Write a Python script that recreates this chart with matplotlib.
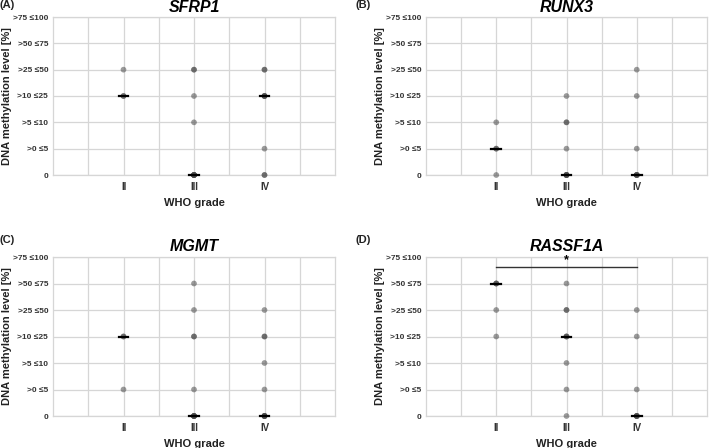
import numpy as np
import matplotlib.pyplot as plt

plt.rcParams["font.family"] = ["Liberation Sans", "DejaVu Sans"]

# methylation categories (index 0..6 on the y axis)
level_labels = ["0", ">0 \u22645", ">5 \u226410", ">10 \u226425", ">25 \u226450", ">50 \u226475", ">75 \u2264100"]
grades = ["II", "III", "IV"]

# per gene: category index of each sample, per WHO grade
sfrp1 = [[3, 3, 4],
         [0, 0, 0, 0, 0, 0, 0, 2, 3, 4, 4],
         [0, 0, 1, 3, 3, 3, 3, 4, 4]]
runx3 = [[0, 1, 1, 2],
         [0, 0, 0, 0, 0, 0, 1, 2, 2, 3],
         [0, 0, 0, 0, 0, 1, 3, 4]]
mgmt = [[1, 3, 3],
        [0, 0, 0, 0, 0, 0, 1, 3, 3, 4, 5],
        [0, 0, 0, 0, 0, 0, 1, 2, 3, 3, 4]]
rassf1a = [[3, 4, 5, 5, 5],
           [0, 1, 2, 3, 3, 3, 4, 4, 5],
           [0, 0, 0, 0, 0, 1, 3, 4]]

genes = ["SFRP1", "RUNX3", "MGMT", "RASSF1A"]
panel_tags = ["(A)", "(B)", "(C)", "(D)"]
gene_data = [sfrp1, runx3, mgmt, rassf1a]

W, H = 709, 448
fig = plt.figure(figsize=(W / 100, H / 100), dpi=100)

# axes boxes in pixels: left, top, right, bottom
boxes = [(53, 17, 335, 175), (426, 17, 707, 175),
         (53, 257, 335, 416), (426, 257, 707, 416)]
tag_pos = [(0, 5), (355, 5), (0, 240), (355, 240)]
title_y = [7, 7, 246, 246]
ylab_x = [12, 385, 12, 385]

for i in range(4):
    l, t, r, b = boxes[i]
    ax = fig.add_axes([l / W, 1 - b / H, (r - l) / W, (b - t) / H])
    ax.set_xlim(0, 4)
    ax.set_ylim(0, 6)
    ax.set_axisbelow(True)
    for s in ax.spines.values():
        s.set_color("#d6d6d6")
        s.set_linewidth(0.9)
    ax.set_xticks([1, 2, 3])
    ax.set_xticks([0.5, 1.5, 2.5, 3.5], minor=True)
    ax.grid(True, which="both", color="#d6d6d6", linewidth=0.9)
    ax.tick_params(which="both", length=0)
    ax.tick_params(axis="x", pad=5)
    ax.set_xticklabels(grades, fontsize=7, fontweight="bold", color="#333333")
    ax.set_yticks(range(7))
    ax.set_yticklabels(level_labels, fontsize=6, fontweight="bold", color="#333333")
    ax.set_xlabel("WHO grade", fontsize=8, fontweight="bold", color="#222222", labelpad=4)
    ax.set_ylabel("DNA methylation level [%]", fontsize=8, fontweight="bold", color="#222222")
    ax.yaxis.set_label_coords((ylab_x[i] - l) / (r - l), 0.5)

    for g, vals in enumerate(gene_data[i]):
        x = g + 1
        vals = np.array(vals)
        ax.scatter(np.full(len(vals), x), vals, s=17, color="#4a4a4a", alpha=0.55,
                   edgecolors="none", clip_on=False, zorder=3)
        med = np.median(vals)
        ax.plot([x - 0.07, x + 0.07], [med, med], color="black", linewidth=1.6,
                clip_on=False, zorder=4)

    if genes[i] == "RASSF1A":
        ax.plot([1, 3], [5.62, 5.62], color="#333333", linewidth=1.0)
        ax.text(2, 5.66, "*", ha="center", va="bottom", fontsize=9, fontweight="bold")

    fig.text((l + r) / 2 / W, 1 - title_y[i] / H, genes[i], ha="center", va="center",
             fontsize=11.5, fontweight="bold", fontstyle="italic")
    fig.text(tag_pos[i][0] / W, 1 - tag_pos[i][1] / H, panel_tags[i], ha="left", va="center",
             fontsize=8, fontweight="bold", color="#222222")

fig.savefig("out.png", dpi=100)
